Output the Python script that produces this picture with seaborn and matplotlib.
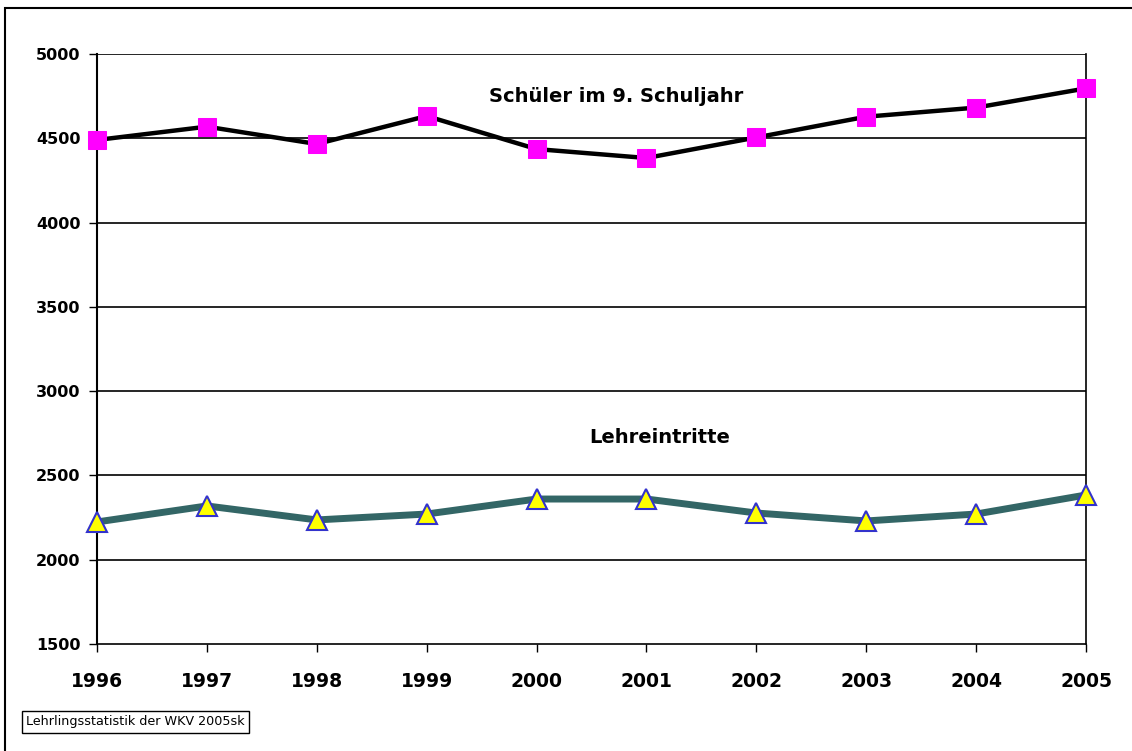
import numpy as np
import pandas as pd
import matplotlib
matplotlib.use("Agg")
import matplotlib.pyplot as plt
import seaborn as sns
from matplotlib.patches import Rectangle

years = [1996, 1997, 1998, 1999, 2000, 2001, 2002, 2003, 2004, 2005]
schueler = [4490, 4569, 4466, 4632, 4436, 4383, 4505, 4628, 4682, 4796]
lehreintritte = [2224, 2319, 2236, 2271, 2360, 2360, 2277, 2230, 2271, 2384]
y_ticks = [1500, 2000, 2500, 3000, 3500, 4000, 4500, 5000]

df = pd.DataFrame({"year": years, "schueler": schueler, "lehre": lehreintritte})

sns.set_theme(style="white")
plt.rcParams["font.family"] = ["DejaVu Sans"]
plt.rcParams["text.color"] = "black"
plt.rcParams["xtick.color"] = "black"
plt.rcParams["ytick.color"] = "black"

fig = plt.figure(figsize=(11.32, 7.51), dpi=100)
ax = fig.add_axes([97 / 1132, 1 - 644 / 751, (1086 - 97) / 1132, (644 - 54) / 751])

# gridlines
for v in y_ticks[1:]:
    ax.axhline(v, color="black", lw=1.2, zorder=1)

sns.lineplot(data=df, x="year", y="schueler", ax=ax, color="black", lw=3.2,
             marker="s", markersize=13, markerfacecolor="#ff00ff",
             markeredgecolor="#ff00ff", zorder=3, clip_on=False)
sns.lineplot(data=df, x="year", y="lehre", ax=ax, color="#336666", lw=5,
             marker="^", markersize=15, markerfacecolor="#ffff00",
             markeredgecolor="#3333cc", markeredgewidth=1.5, zorder=3, clip_on=False)

ax.set_xlim(1996, 2005)
ax.set_ylim(1500, 5000)
ax.set_xticks(years)
ax.set_xticklabels([str(y) for y in years], fontsize=13.5, fontweight="bold")
ax.set_yticks(y_ticks)
ax.set_yticklabels([str(v) for v in y_ticks], fontsize=11.5, fontweight="bold")
ax.tick_params(axis="x", bottom=True, direction="out", length=6, width=1, color="black", pad=14)
ax.tick_params(axis="y", left=True, direction="out", length=6, width=1, color="black", pad=6)
ax.set_xlabel("")
ax.set_ylabel("")
for side in ["left", "bottom", "right"]:
    ax.spines[side].set_visible(True)
    ax.spines[side].set_color("black")
ax.spines["left"].set_linewidth(1.5)
ax.spines["top"].set_visible(False)
ax.spines["bottom"].set_linewidth(1.2)
ax.spines["right"].set_linewidth(1.2)
ax.set_facecolor("white")

ax.text(2000.72, 4745, "Schüler im 9. Schuljahr", fontsize=14, fontweight="bold",
        ha="center", va="center")
ax.text(2001.12, 2725, "Lehreintritte", fontsize=14, fontweight="bold",
        ha="center", va="center")

# source box
fig.text(26 / 1132, 1 - 722 / 751, "Lehrlingsstatistik der WKV 2005sk", fontsize=9.2,
         ha="left", va="center",
         bbox=dict(boxstyle="square,pad=0.35", facecolor="white", edgecolor="black", lw=1))

# outer frame
fig.patches.append(Rectangle((5 / 1132, -0.01), 1.2, 1 - 8 / 751 + 0.01, transform=fig.transFigure,
                             fill=False, edgecolor="black", lw=1.5, zorder=0))

fig.savefig("out.png", dpi=100)
